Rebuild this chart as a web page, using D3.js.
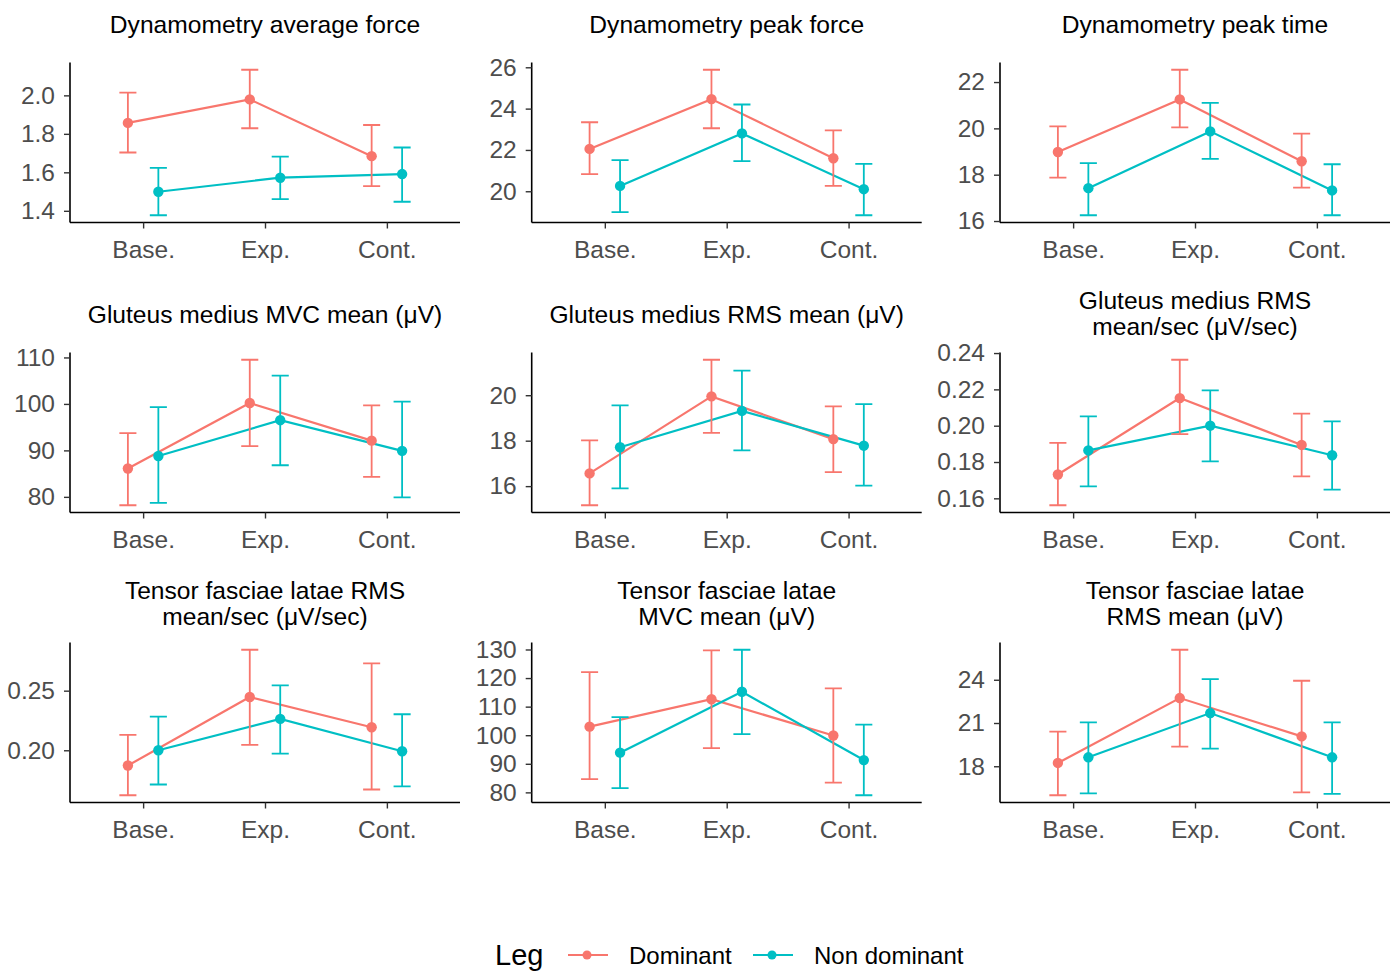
<!DOCTYPE html>
<html>
<head>
<meta charset="utf-8">
<script src="https://cdn.jsdelivr.net/npm/d3@7"></script>
<style>
  html, body { margin: 0; padding: 0; background: #ffffff; }
  svg { display: block; font-family: "Liberation Sans", Arial, sans-serif; }
</style>
</head>
<body>
<svg id="chart" width="1390" height="973"></svg>
<script>
// ---------------- data ----------------
const phases = ["Base.", "Exp.", "Cont."];
const groups = ["Dominant", "Non dominant"];
const groupColors = ["#F8766D", "#00BFC4"];

const panelTitles = [
  ["Dynamometry average force"],
  ["Dynamometry peak force"],
  ["Dynamometry peak time"],
  ["Gluteus medius MVC mean (μV)"],
  ["Gluteus medius RMS mean (μV)"],
  ["Gluteus medius RMS", "mean/sec (μV/sec)"],
  ["Tensor fasciae latae RMS", "mean/sec (μV/sec)"],
  ["Tensor fasciae latae", "MVC mean (μV)"],
  ["Tensor fasciae latae", "RMS mean (μV)"]
];

const yTickLabels = [
  ["1.4", "1.6", "1.8", "2.0"],
  ["20", "22", "24", "26"],
  ["16", "18", "20", "22"],
  ["80", "90", "100", "110"],
  ["16", "18", "20"],
  ["0.16", "0.18", "0.20", "0.22", "0.24"],
  ["0.20", "0.25"],
  ["80", "90", "100", "110", "120", "130"],
  ["18", "21", "24"]
];

// Dominant: mean, lower and upper error bar ends (Base., Exp., Cont.)
const dominantMean = [
  [1.857, 1.979, 1.684],
  [22.05, 24.46, 21.60],
  [18.98, 21.25, 18.58],
  [86.1, 100.2, 92.1],
  [16.56, 19.95, 18.07],
  [0.1731, 0.2152, 0.1894],
  [0.1872, 0.2447, 0.2193],
  [103.0, 112.6, 99.9],
  [18.23, 22.73, 20.07]
];
const dominantLow = [
  [1.703, 1.829, 1.528],
  [20.83, 23.05, 20.26],
  [17.87, 20.04, 17.44],
  [78.2, 90.9, 84.3],
  [15.16, 18.34, 16.62],
  [0.1562, 0.1954, 0.1721],
  [0.1623, 0.2045, 0.1671],
  [84.6, 95.5, 83.4],
  [15.99, 19.36, 16.19]
];
const dominantHigh = [
  [2.014, 2.133, 1.846],
  [23.34, 25.88, 22.95],
  [20.09, 22.53, 19.77],
  [93.7, 109.5, 99.7],
  [18.01, 21.56, 19.51],
  [0.1905, 0.2363, 0.2066],
  [0.2129, 0.2843, 0.2729],
  [122.1, 129.7, 116.4],
  [20.40, 26.08, 23.93]
];

// Non dominant: mean, lower and upper error bar ends (Base., Exp., Cont.)
const nonDominantMean = [
  [1.499, 1.572, 1.591],
  [20.26, 22.80, 20.10],
  [17.42, 19.87, 17.32],
  [88.8, 96.5, 89.9],
  [17.71, 19.31, 17.78],
  [0.1864, 0.2000, 0.1837],
  [0.2000, 0.2263, 0.1992],
  [93.9, 115.2, 91.3],
  [18.62, 21.69, 18.62]
];
const nonDominantLow = [
  [1.377, 1.461, 1.447],
  [18.99, 21.46, 18.84],
  [16.25, 18.68, 16.25],
  [78.7, 86.8, 79.9],
  [15.90, 17.57, 16.02],
  [0.1666, 0.1804, 0.1648],
  [0.1713, 0.1972, 0.1697],
  [81.5, 100.4, 79.0],
  [16.12, 19.22, 16.08]
];
const nonDominantHigh = [
  [1.623, 1.682, 1.729],
  [21.51, 24.20, 21.33],
  [18.50, 21.10, 18.45],
  [99.3, 106.1, 100.5],
  [19.55, 21.08, 19.61],
  [0.2051, 0.2194, 0.2024],
  [0.2282, 0.2544, 0.2302],
  [106.3, 129.9, 103.7],
  [21.04, 24.05, 21.04]
];

// ---------------- layout ----------------
const svg = d3.select("#chart");
const colLeft = [70, 531.7, 1000];
const rowTop = [62.5, 352.5, 642.5];
const panelW = 390, panelH = 160;
const tickFont = 24.5, titleFont = 24.6;

const seriesMean = [dominantMean, nonDominantMean];
const seriesLow = [dominantLow, nonDominantLow];
const seriesHigh = [dominantHigh, nonDominantHigh];

for (let p = 0; p < 9; p++) {
  const col = p % 3, row = Math.floor(p / 3);
  const g = svg.append("g").attr("transform", `translate(${colLeft[col]},${rowTop[row]})`);

  const x = d3.scalePoint().domain(phases).range([0, panelW]).padding(0.6);
  const step = x.step();
  const dodge = step * 0.125;
  const capHalf = step * 0.07;

  const allVals = [];
  for (let s = 0; s < 2; s++) {
    allVals.push(...seriesLow[s][p], ...seriesHigh[s][p], ...seriesMean[s][p]);
  }
  const [mn, mx] = d3.extent(allVals);
  const pad = (mx - mn) * 0.05;
  const y = d3.scaleLinear().domain([mn - pad, mx + pad]).range([panelH, 0]);

  // axes
  const labels = yTickLabels[p];
  const yAxis = d3.axisLeft(y).tickValues(labels.map(Number)).tickFormat((d, i) => labels[i]).tickSize(6).tickPadding(9);
  const ya = g.append("g").call(yAxis);
  const xAxis = d3.axisBottom(x).tickSize(6).tickPadding(5);
  const xa = g.append("g").attr("transform", `translate(0,${panelH})`).call(xAxis);

  [ya, xa].forEach(a => {
    a.select(".domain").attr("stroke", "#000").attr("stroke-width", 1.6).attr("d",
      a === ya ? `M0,0V${panelH}` : `M0,0H${panelW}`);
    a.selectAll(".tick line").attr("stroke", "#333").attr("stroke-width", 1.4);
    a.selectAll(".tick text").attr("fill", "#4D4D4D").style("font-size", tickFont + "px")
      .style("font-family", "'Liberation Sans', Arial, sans-serif");
  });
  xa.selectAll(".tick text").attr("dy", null).attr("y", 35).attr("dominant-baseline", null);

  // title
  const tl = panelTitles[p];
  const baselines = tl.length === 1 ? [-30] : [-44, -18];
  tl.forEach((t, i) => {
    g.append("text").attr("x", panelW / 2).attr("y", baselines[i])
      .attr("text-anchor", "middle").attr("fill", "#000")
      .style("font-size", titleFont + "px").text(t);
  });

  const line = d3.line().x(d => d.x).y(d => y(d.v));

  // lines
  for (let s = 0; s < 2; s++) {
    const off = s === 0 ? -dodge : dodge;
    const pts = phases.map((ph, i) => ({ x: x(ph) + off, v: seriesMean[s][p][i] }));
    g.append("path").datum(pts).attr("d", line).attr("fill", "none")
      .attr("stroke", groupColors[s]).attr("stroke-width", 2.2);
  }
  // error bars
  for (let s = 0; s < 2; s++) {
    const off = s === 0 ? -dodge : dodge;
    phases.forEach((ph, i) => {
      const cx = x(ph) + off;
      const lo = y(seriesLow[s][p][i]), hi = y(seriesHigh[s][p][i]);
      g.append("path")
        .attr("d", `M${cx - capHalf},${hi}H${cx + capHalf}M${cx},${hi}V${lo}M${cx - capHalf},${lo}H${cx + capHalf}`)
        .attr("fill", "none").attr("stroke", groupColors[s]).attr("stroke-width", 1.8);
    });
  }
  // points
  for (let s = 0; s < 2; s++) {
    const off = s === 0 ? -dodge : dodge;
    g.selectAll(null).data(phases).enter().append("circle")
      .attr("cx", ph => x(ph) + off)
      .attr("cy", (ph, i) => y(seriesMean[s][p][i]))
      .attr("r", 5.2).attr("fill", groupColors[s]);
  }
}

// ---------------- legend ----------------
const leg = svg.append("g").attr("transform", "translate(0,955)");
leg.append("text").attr("x", 495).attr("y", 10).attr("fill", "#000")
  .style("font-size", "29px").text("Leg");
const keyX = [568, 753];
const textX = [629, 814];
groups.forEach((gname, i) => {
  leg.append("line").attr("x1", keyX[i]).attr("x2", keyX[i] + 40).attr("y1", 0).attr("y2", 0)
    .attr("stroke", groupColors[i]).attr("stroke-width", 2);
  leg.append("circle").attr("cx", keyX[i] + 19).attr("cy", 0).attr("r", 4.5).attr("fill", groupColors[i]);
  leg.append("text").attr("x", textX[i]).attr("y", 8.5).attr("fill", "#000")
    .style("font-size", "24px").text(gname);
});
</script>
</body>
</html>
